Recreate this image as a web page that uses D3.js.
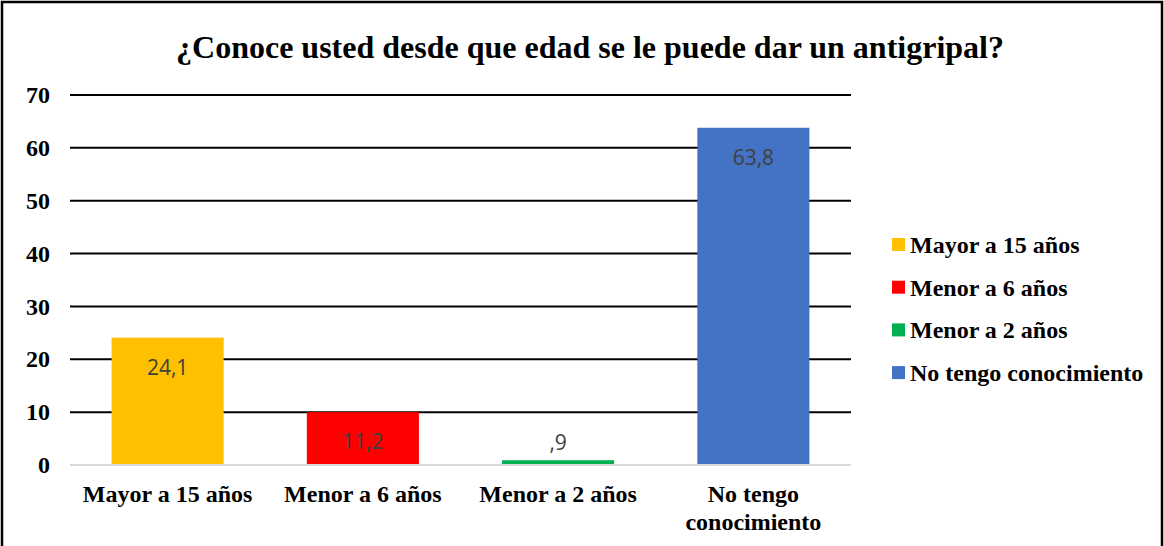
<!DOCTYPE html>
<html>
<head>
<meta charset="utf-8">
<script src="https://cdn.jsdelivr.net/npm/d3@7"></script>
<style>
  body { margin: 0; background: #fff; }
  svg { display: block; }
</style>
</head>
<body>
<svg></svg>
<script>
'use strict'

const categories = ['Mayor a 15 años', 'Menor a 6 años', 'Menor a 2 años', 'No tengo conocimiento']
const values = [24.1, 10.0, 0.9, 63.8]
const valueLabels = ['24,1', '11,2', ',9', '63,8']
const barColors = ['#FFC000', '#FF0000', '#00B050', '#4472C4']
const yTicks = [0, 10, 20, 30, 40, 50, 60, 70]

const W = 1164, H = 546
const margin = { top: 95, right: 313, bottom: 81, left: 70 }
const width = W - margin.left - margin.right,
  height = H - margin.top - margin.bottom

const serif = '"Liberation Serif", "Times New Roman", serif'

const svg = d3.select('svg').attr('width', W).attr('height', H)

// outer frame (bottom edge falls outside the picture)
svg.append('rect')
  .attr('x', 2).attr('y', 2)
  .attr('width', W - 4).attr('height', H + 20)
  .attr('fill', 'none').attr('stroke', '#000').attr('stroke-width', 2.5)

svg.append('text')
  .attr('x', 590).attr('y', 58)
  .attr('text-anchor', 'middle')
  .style('font-family', serif).style('font-weight', 'bold').style('font-size', '32px')
  .text('¿Conoce usted desde que edad se le puede dar un antigripal?')

const g = svg.append('g').attr('transform', 'translate(' + margin.left + ',' + margin.top + ')')

const x = d3.scaleBand().domain(categories).range([0, width]).paddingInner(0.426).paddingOuter(0.213)
const y = d3.scaleLinear().domain([0, 70]).range([height, 0])

// gridlines
g.append('g').selectAll('line')
  .data(yTicks.filter(d => d > 0))
  .enter().append('line')
  .attr('x1', 0).attr('x2', width)
  .attr('y1', d => y(d)).attr('y2', d => y(d))
  .attr('stroke', '#000').attr('stroke-width', 2)

// y axis labels
const yAxis = g.append('g')
  .call(d3.axisLeft(y).tickValues(yTicks).tickSize(0).tickPadding(20).tickFormat(d3.format('d')))
yAxis.select('.domain').remove()
yAxis.selectAll('text')
  .style('font-family', serif).style('font-weight', 'bold').style('font-size', '24px').attr('fill', '#000')

// bars
g.append('g').selectAll('rect')
  .data(values)
  .enter().append('rect')
  .attr('x', (d, i) => x(categories[i]))
  .attr('y', d => y(d))
  .attr('width', x.bandwidth())
  .attr('height', d => y(0) - y(d))
  .attr('fill', (d, i) => barColors[i])

// baseline
g.append('line')
  .attr('x1', 0).attr('x2', width)
  .attr('y1', y(0)).attr('y2', y(0))
  .attr('stroke', '#d9d9d9').attr('stroke-width', 2)

// value labels: inside end, outside if bar is too short
g.append('g').selectAll('text')
  .data(values)
  .enter().append('text')
  .attr('x', (d, i) => x(categories[i]) + x.bandwidth() / 2)
  .attr('y', d => (y(0) - y(d) > 30 ? y(d) + 37 : y(d) - 10))
  .attr('text-anchor', 'middle')
  .style('font-family', '"Open Sans", "Liberation Sans", sans-serif').style('font-size', '21px')
  .attr('fill', '#404040')
  .text((d, i) => valueLabels[i])

// x axis labels
const xLab = g.append('g').selectAll('text')
  .data(categories)
  .enter().append('text')
  .attr('x', d => x(d) + x.bandwidth() / 2)
  .attr('y', height + 37)
  .attr('text-anchor', 'middle')
  .style('font-family', serif).style('font-weight', 'bold').style('font-size', '24px')

xLab.each(function (d) {
  const lines = d === 'No tengo conocimiento' ? ['No tengo', 'conocimiento'] : [d]
  lines.forEach((t, k) => {
    d3.select(this).append('tspan')
      .attr('x', x(d) + x.bandwidth() / 2)
      .attr('dy', k === 0 ? 0 : 28)
      .text(t)
  })
})

// legend
const legend = svg.append('g').attr('transform', 'translate(892,245)')
const item = legend.selectAll('g')
  .data(categories)
  .enter().append('g')
  .attr('transform', (d, i) => 'translate(0,' + i * 42.7 + ')')
item.append('rect')
  .attr('x', 0).attr('y', -7).attr('width', 13).attr('height', 13)
  .attr('fill', (d, i) => barColors[i])
item.append('text')
  .attr('x', 18).attr('y', 8)
  .style('font-family', serif).style('font-weight', 'bold').style('font-size', '24px')
  .text(d => d)
</script>
</body>
</html>
